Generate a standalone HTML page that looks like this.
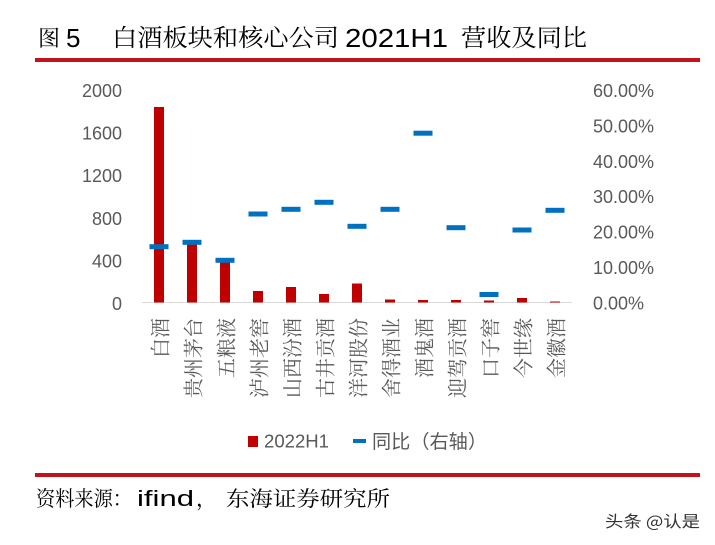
<!DOCTYPE html>
<html>
<head>
<meta charset="utf-8">
<style>
html,body{margin:0;padding:0;background:#fff;}
svg{display:block;}
</style>
</head>
<body>
<svg width="715" height="545" viewBox="0 0 715 545" xmlns="http://www.w3.org/2000/svg">
  <rect x="0" y="0" width="715" height="545" fill="#ffffff"/>

  <!-- Title -->
  <g fill="#000">
    <text x="38" y="46" font-family="Noto Serif CJK SC, serif" font-size="22">图</text>
    <text x="66" y="47" font-family="Liberation Sans, sans-serif" font-size="26">5</text>
    <text x="112" y="46" font-family="Noto Serif CJK SC, serif" font-size="24" textLength="227" lengthAdjust="spacingAndGlyphs">白酒板块和核心公司</text>
    <text x="345" y="47" font-family="Liberation Sans, sans-serif" font-size="26" textLength="103" lengthAdjust="spacingAndGlyphs">2021H1</text>
    <text x="461" y="46" font-family="Noto Serif CJK SC, serif" font-size="24" textLength="126" lengthAdjust="spacingAndGlyphs">营收及同比</text>
  </g>
  <rect x="35" y="58" width="665" height="4" fill="#C0141B"/>

  <!-- Left axis labels -->
  <g font-family="Liberation Sans, sans-serif" font-size="18" fill="#595959" text-anchor="end" dominant-baseline="central">
    <text x="122" y="91">2000</text>
    <text x="122" y="133.6">1600</text>
    <text x="122" y="176.2">1200</text>
    <text x="122" y="218.8">800</text>
    <text x="122" y="261.4">400</text>
    <text x="122" y="304">0</text>
  </g>

  <!-- Right axis labels -->
  <g font-family="Liberation Sans, sans-serif" font-size="18" fill="#595959" text-anchor="start" dominant-baseline="central">
    <text x="593" y="91">60.00%</text>
    <text x="593" y="126.4">50.00%</text>
    <text x="593" y="161.8">40.00%</text>
    <text x="593" y="197.2">30.00%</text>
    <text x="593" y="232.6">20.00%</text>
    <text x="593" y="268">10.00%</text>
    <text x="593" y="303.5">0.00%</text>
  </g>

  <!-- Axis line -->
  <line x1="142" y1="302.5" x2="572" y2="302.5" stroke="#D9D9D9" stroke-width="1"/>

  <!-- Bars -->
  <g fill="#C00000">
    <rect x="154" y="107" width="10" height="195.5"/>
    <rect x="187" y="243" width="10" height="59.5"/>
    <rect x="220" y="262" width="10" height="40.5"/>
    <rect x="253" y="291" width="10" height="11.5"/>
    <rect x="286" y="287" width="10" height="15.5"/>
    <rect x="319" y="294" width="10" height="8.5"/>
    <rect x="352" y="283.5" width="10" height="19"/>
    <rect x="385" y="299.5" width="10" height="3"/>
    <rect x="418" y="300" width="10" height="2.5"/>
    <rect x="451" y="300" width="10" height="2.5"/>
    <rect x="484" y="300.5" width="10" height="2"/>
    <rect x="517" y="298" width="10" height="4.5"/>
    <rect x="550" y="301.5" width="10" height="1"/>
  </g>

  <!-- YoY dashes -->
  <g fill="#0070C0">
    <rect x="149.5" y="244.2" width="19" height="5"/>
    <rect x="182.5" y="239.8" width="19" height="5"/>
    <rect x="215.5" y="257.8" width="19" height="5"/>
    <rect x="248.5" y="211.5" width="19" height="5"/>
    <rect x="281.5" y="206.8" width="19" height="5"/>
    <rect x="314.5" y="199.8" width="19" height="5"/>
    <rect x="347.5" y="223.8" width="19" height="5"/>
    <rect x="380.5" y="206.8" width="19" height="5"/>
    <rect x="413.5" y="130.7" width="19" height="5"/>
    <rect x="446.5" y="225.2" width="19" height="5"/>
    <rect x="479.5" y="292" width="19" height="5"/>
    <rect x="512.5" y="227.5" width="19" height="5"/>
    <rect x="545.5" y="207.8" width="19" height="5"/>
  </g>

  <!-- X labels (rotated) -->
  <g font-family="Noto Serif CJK SC, serif" font-size="20" fill="#595959" text-anchor="end" dominant-baseline="central">
    <text transform="translate(159,318) rotate(-90)">白酒</text>
    <text transform="translate(192,318) rotate(-90)">贵州茅台</text>
    <text transform="translate(225,318) rotate(-90)">五粮液</text>
    <text transform="translate(258,318) rotate(-90)">泸州老窖</text>
    <text transform="translate(291,318) rotate(-90)">山西汾酒</text>
    <text transform="translate(324,318) rotate(-90)">古井贡酒</text>
    <text transform="translate(357,318) rotate(-90)">洋河股份</text>
    <text transform="translate(390,318) rotate(-90)">舍得酒业</text>
    <text transform="translate(423,318) rotate(-90)">酒鬼酒</text>
    <text transform="translate(456,318) rotate(-90)">迎驾贡酒</text>
    <text transform="translate(489,318) rotate(-90)">口子窖</text>
    <text transform="translate(522,318) rotate(-90)">今世缘</text>
    <text transform="translate(555,318) rotate(-90)">金徽酒</text>
  </g>

  <!-- Legend -->
  <rect x="248" y="436" width="10" height="11" fill="#C00000"/>
  <text x="264" y="447.5" font-family="Liberation Sans, sans-serif" font-size="18" fill="#595959" textLength="65" lengthAdjust="spacingAndGlyphs">2022H1</text>
  <rect x="353" y="439" width="13" height="4" fill="#0070C0"/>
  <text x="372" y="448" font-family="Noto Sans CJK SC, sans-serif" font-size="19" fill="#595959" textLength="115" lengthAdjust="spacingAndGlyphs">同比（右轴）</text>

  <!-- Bottom rule -->
  <rect x="35" y="473" width="665" height="4" fill="#C0141B"/>

  <!-- Source -->
  <g fill="#000">
    <text x="36" y="506" font-family="Noto Serif CJK SC, serif" font-size="21" textLength="96" lengthAdjust="spacingAndGlyphs">资料来源：</text>
    <text x="137" y="506" font-family="Liberation Sans, sans-serif" font-size="22" textLength="57" lengthAdjust="spacingAndGlyphs">ifind</text>
    <text x="196" y="506" font-family="Noto Serif CJK SC, serif" font-size="21">，</text>
    <text x="226" y="506" font-family="Noto Serif CJK SC, serif" font-size="21" textLength="164" lengthAdjust="spacingAndGlyphs">东海证券研究所</text>
  </g>

  <!-- Watermark -->
  <text x="605" y="527" font-family="Noto Sans CJK SC, sans-serif" font-size="16" fill="#333" textLength="95" lengthAdjust="spacingAndGlyphs">头条 @认是</text>
</svg>
</body>
</html>
